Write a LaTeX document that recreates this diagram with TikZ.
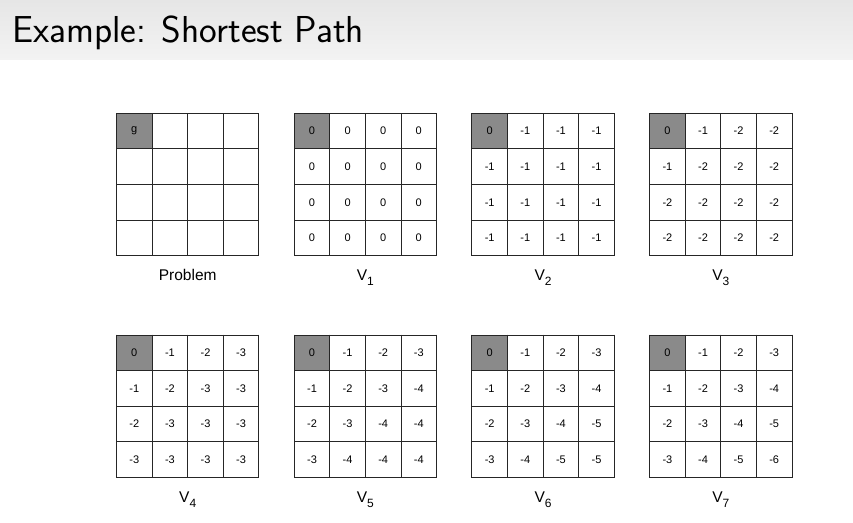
\documentclass[tikz,border=0pt]{standalone}
\usepackage{fontspec}
\setmainfont{Liberation Sans}
\usetikzlibrary{positioning}

\definecolor{goalgray}{HTML}{8A8A8A}
\definecolor{barTop}{HTML}{E6E6E6}
\definecolor{barBottom}{HTML}{F3F3F3}

\tikzset{
  gridline/.style={draw=black!85, line width=0.9pt, line cap=rect},
  cellnum/.style={font=\fontsize{11}{12}\selectfont, inner sep=0pt},
  gridlabel/.style={font=\fontsize{15.5}{16}\selectfont, anchor=base, inner sep=0pt},
  titletext/.style={font=\fontsize{37.5}{40}\selectfont\sffamily, anchor=base west, inner sep=0pt},
}

\newcommand{\cellsize}{35.6}
\newcommand{\vsub}[1]{V\raisebox{-5pt}{\fontsize{12}{12}\selectfont #1}}

% name, left x, top y, values, label
\newcommand{\valgrid}[5]{%
  \fill[goalgray] (#2,#3) rectangle ({#2+\cellsize},{#3-\cellsize});
  \foreach \k in {0,...,4} {
    \draw[gridline] ({#2+\k*\cellsize},#3) -- ({#2+\k*\cellsize},{#3-4*\cellsize});
    \draw[gridline] (#2,{#3-\k*\cellsize}) -- ({#2+4*\cellsize},{#3-\k*\cellsize});
  }
  \foreach \v [count=\i from 0] in {#4} {
    \pgfmathtruncatemacro{\rowi}{div(\i,4)}
    \pgfmathtruncatemacro{\coli}{mod(\i,4)}
    \node[cellnum] (#1-\i) at ({#2+(\coli+0.5)*\cellsize},{#3-(\rowi+0.5)*\cellsize}) {\v};
  }
  \node[gridlabel] (#1-label) at ({#2+2*\cellsize},{#3-4*\cellsize-25}) {#5};
}

\begin{document}
\begin{tikzpicture}[x=1pt,y=1pt]
        \useasboundingbox (0,0) rectangle (853,522);
        \fill[white] (0,0) rectangle (853,522);

        % title bar
        \shade[top color=barTop, bottom color=barBottom] (0,462) rectangle (853,522);
        \node[titletext] (title) at (12,479) {Example: Shortest Path};

        % top row
        \valgrid{prob}{116.5}{408.7}{g}{Problem}
        \valgrid{v1}{294.2}{408.7}{0,0,0,0, 0,0,0,0, 0,0,0,0, 0,0,0,0}{\vsub{1}}
        \valgrid{v2}{471.9}{408.7}{0,-1,-1,-1, -1,-1,-1,-1, -1,-1,-1,-1, -1,-1,-1,-1}{\vsub{2}}
        \valgrid{v3}{649.6}{408.7}{0,-1,-2,-2, -1,-2,-2,-2, -2,-2,-2,-2, -2,-2,-2,-2}{\vsub{3}}

        % bottom row
        \valgrid{v4}{116.5}{187}{0,-1,-2,-3, -1,-2,-3,-3, -2,-3,-3,-3, -3,-3,-3,-3}{\vsub{4}}
        \valgrid{v5}{294.2}{187}{0,-1,-2,-3, -1,-2,-3,-4, -2,-3,-4,-4, -3,-4,-4,-4}{\vsub{5}}
        \valgrid{v6}{471.9}{187}{0,-1,-2,-3, -1,-2,-3,-4, -2,-3,-4,-5, -3,-4,-5,-5}{\vsub{6}}
        \valgrid{v7}{649.6}{187}{0,-1,-2,-3, -1,-2,-3,-4, -2,-3,-4,-5, -3,-4,-5,-6}{\vsub{7}}
      \end{tikzpicture}
\end{document}
